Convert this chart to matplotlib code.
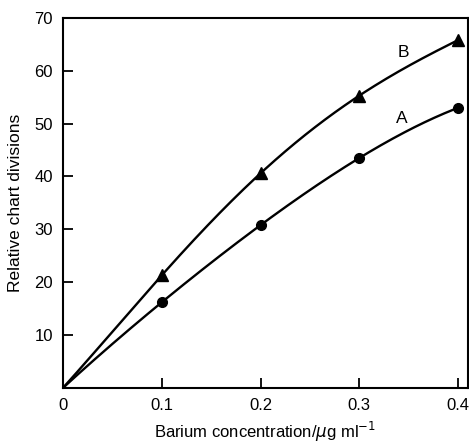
import matplotlib
matplotlib.use("Agg")
import matplotlib.pyplot as plt
import numpy as np

plt.rcParams['font.family'] = ['Liberation Sans', 'DejaVu Sans']

# Barium concentration (ug/ml)
conc = [0.0, 0.1, 0.2, 0.3, 0.4]
# Relative chart divisions
curve_a = [0.0, 16.2, 30.8, 43.5, 53.0]
curve_b = [0.0, 21.3, 40.6, 55.3, 65.8]

x_ticks = [0, 0.1, 0.2, 0.3, 0.4]
x_ticklabels = ["0", "0.1", "0.2", "0.3", "0.4"]
y_ticks = [10, 20, 30, 40, 50, 60, 70]

fig = plt.figure(figsize=(4.69, 4.46), dpi=100)
ax = fig.add_axes([0.134, 0.130, 0.864, 0.830])

xs = np.linspace(0, 0.4, 200)
for ys, marker, ms in [(curve_a, 'o', 7), (curve_b, '^', 8)]:
    # smooth curve through the points
    coef = np.polyfit(conc, ys, 4)
    ax.plot(xs, np.polyval(coef, xs), color='black', lw=1.7, zorder=2)
    ax.plot(conc[1:], ys[1:], marker, color='black', ms=ms, zorder=3)

ax.text(0.343, 51.0, "A", fontsize=12.5, ha='center', va='center')
ax.text(0.345, 63.4, "B", fontsize=12.5, ha='center', va='center')

ax.set_xlim(0, 0.41)
ax.set_ylim(0, 70)
ax.set_xticks(x_ticks)
ax.set_xticklabels(x_ticklabels)
ax.set_yticks(y_ticks)
ax.tick_params(direction='in', length=7, width=1.3, labelsize=12, pad=7)
for s in ax.spines.values():
    s.set_linewidth(1.5)

ax.set_xlabel("Barium concentration/$\\mu$g ml$^{-1}$", fontsize=12, labelpad=5)
ax.set_ylabel("Relative chart divisions", fontsize=12.5, labelpad=8)

fig.savefig("out.png", dpi=100)
